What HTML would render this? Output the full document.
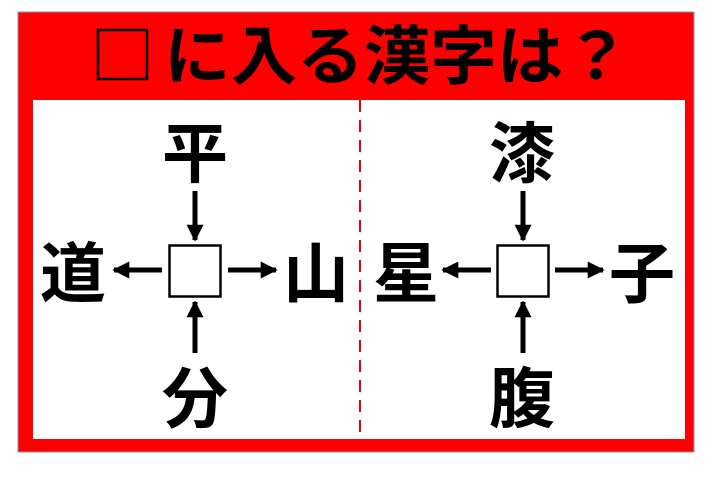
<!DOCTYPE html>
<html><head><meta charset="utf-8"><style>
html,body{margin:0;padding:0;background:#fff;}
svg{display:block}
text{font-family:"Liberation Sans","Noto Sans CJK JP",sans-serif;font-weight:bold;fill:#000;text-anchor:middle}
</style></head><body>
<svg width="720" height="493" viewBox="0 0 720 493" xmlns="http://www.w3.org/2000/svg">
<defs><marker id="a" viewBox="0 0 10 10" refX="9" refY="5" markerWidth="3.4" markerHeight="3.4" orient="auto"><path d="M0,0 L10,5 L0,10 z" fill="#000"/></marker></defs>
<rect x="18" y="12" width="676" height="440" fill="#ff0000" stroke="#7a8fb0" stroke-width="1"/>
<rect x="33" y="100" width="652" height="339" fill="#fff"/>
<line x1="360" y1="100" x2="360" y2="439" stroke="#e00" stroke-width="2" stroke-dasharray="12,8"/>
<rect x="98" y="30" width="49" height="49" fill="none" stroke="#000" stroke-width="2.5"/>
<text x="164" y="79" font-size="64" style="text-anchor:start" textLength="466" lengthAdjust="spacingAndGlyphs">に入る漢字は？</text>
<g stroke="#000" stroke-width="5" marker-end="url(#a)">
<line x1="195" y1="191" x2="195" y2="240"/>
<line x1="195" y1="353" x2="195" y2="302"/>
<line x1="162" y1="270" x2="114" y2="270"/>
<line x1="228" y1="270" x2="276" y2="270"/>
<line x1="523" y1="191" x2="523" y2="240"/>
<line x1="523" y1="353" x2="523" y2="302"/>
<line x1="491" y1="270" x2="443" y2="270"/>
<line x1="555" y1="270" x2="603" y2="270"/>
</g>
<rect x="169.5" y="245.5" width="51" height="51" fill="#fff" stroke="#000" stroke-width="2.5"/>
<rect x="497.5" y="245.5" width="51" height="51" fill="#fff" stroke="#000" stroke-width="2.5"/>
<g font-size="66">
<text x="195" y="177">平</text>
<text x="73" y="297">道</text>
<text x="316" y="297">山</text>
<text x="195" y="422">分</text>
<text x="522" y="177">漆</text>
<text x="406" y="297">星</text>
<text x="642" y="297">子</text>
<text x="522" y="422">腹</text>
</g>
</svg>
</body></html>
